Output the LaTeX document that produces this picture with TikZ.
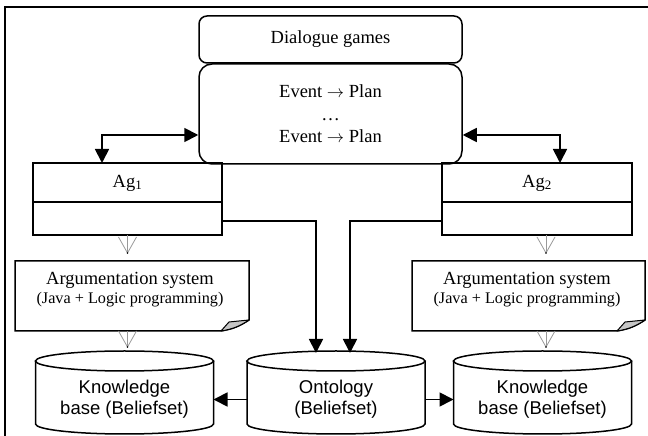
\documentclass[tikz,border=0pt]{standalone}
\usepackage{fontspec}
\setmainfont{Liberation Serif}
\setsansfont{Liberation Sans}
\usetikzlibrary{arrows.meta,calc}
\begin{document}
\begin{tikzpicture}[x=1pt,y=1pt,
  box/.style={draw, line width=1.5pt, inner sep=0pt, align=center, font=\fontsize{18.5}{22.5}\selectfont},
  shapebox/.style={inner sep=0pt, outer sep=0pt},
  txt/.style={inner sep=0pt, align=center, font=\fontsize{18.5}{19}\selectfont},
  sanstxt/.style={inner sep=0pt, align=center, font=\sffamily\fontsize{18.5}{21}\selectfont},
  link/.style={line width=1.8pt, -{Triangle[length=14pt,width=14pt]}},
  dlink/.style={line width=1.8pt, {Triangle[length=14pt,width=14pt]}-{Triangle[length=14pt,width=14pt]}},
  vline/.style={draw=gray!80, line width=0.8pt, line join=miter},
  outline/.style={line width=1.5pt, line join=miter},
]
\useasboundingbox (0,0) rectangle (648,436);
% outer frame (only left and top edges visible)
\draw[line width=2pt] (5,-5) -- (5,429) -- (660,429);

% top boxes
\node[box, rounded corners=8pt, minimum width=263pt, minimum height=47pt] (dg) at (330.5,396.5) {Dialogue games};
\node[box, rounded corners=13pt, minimum width=263pt, minimum height=100pt] (ev) at (330.5,322) {Event $\rightarrow$ Plan\\…\\Event $\rightarrow$ Plan};

% agent boxes
\node[draw, line width=1.5pt, shapebox, minimum width=189pt, minimum height=72pt] (ag1) at (127.5,237) {};
\node[draw, line width=1.5pt, shapebox, minimum width=190pt, minimum height=72pt] (ag2) at (537,237) {};
\draw[line width=1.5pt] ($(ag1.south west)+(0,33)$) -- ($(ag1.south east)+(0,33)$);
\draw[line width=1.5pt] ($(ag2.south west)+(0,33)$) -- ($(ag2.south east)+(0,33)$);
\node[txt] (ag1t) at (127.5,253) {Ag\textsubscript{1}};
\node[txt] (ag2t) at (537,253) {Ag\textsubscript{2}};

% argumentation system notes
\node[shapebox, minimum width=234pt, minimum height=70pt] (arg1) at (132,140) {};
\node[shapebox, minimum width=233pt, minimum height=70pt] (arg2) at (528.5,140) {};
\foreach \n in {arg1,arg2}{
  \draw[outline] (\n.north west) -- (\n.north east) -- ($(\n.south east)+(0,11)$)
     to[bend left=12] ($(\n.south east)+(-28,0)$) -- (\n.south west) -- cycle;
  \draw[line width=1pt, fill=gray!45, line join=round] ($(\n.south east)+(0,11)$) -- ($(\n.south east)+(-20,9)$) -- ($(\n.south east)+(-28,0)$) to[bend right=12] cycle;
}
\node[txt] (arg1t) at (130,146) {Argumentation system\\{\fontsize{16.2}{19}\selectfont (Java + Logic programming)}};
\node[txt] (arg2t) at (527,146) {Argumentation system\\{\fontsize{16.2}{19}\selectfont (Java + Logic programming)}};

% cylinders
\node[shapebox, minimum width=178pt, minimum height=83pt] (kb1) at (124.5,43.5) {};
\node[shapebox, minimum width=178pt, minimum height=83pt] (onto) at (336,43.5) {};
\node[shapebox, minimum width=178pt, minimum height=83pt] (kb2) at (542.5,43.5) {};
\foreach \n in {kb1,onto,kb2}{
  \draw[outline] ($(\n.north west)+(0,-10)$) -- ($(\n.south west)+(0,10)$)
     arc[start angle=180, end angle=360, x radius=89, y radius=10]
     -- ($(\n.north east)+(0,-10)$);
  \draw[outline] ($(\n.north)+(0,-10)$) ellipse[x radius=89, y radius=10];
}
\node[sanstxt] (kb1t) at (124.5,37) {Knowledge\\base (Beliefset)};
\node[sanstxt] (ontot) at (336,37) {Ontology\\(Beliefset)};
\node[sanstxt] (kb2t) at (542.5,37) {Knowledge\\base (Beliefset)};

% connectors
\draw[dlink] ($(ag1.north)+(-25.5,0)$) |- ($(ev.west)+(0,-21)$);
\draw[dlink] ($(ag2.north)+(23,0)$) |- ($(ev.east)+(0,-21)$);
\draw[link] ($(ag1.south east)+(0,14)$) -| ($(onto.north)+(-20,-2)$);
\draw[link] ($(ag2.south west)+(0,14)$) -| ($(onto.north)+(14,-2)$);
\draw[link] ($(onto.west)+(0,-7)$) -- ($(kb1.east)+(0,-7)$);
\draw[link] ($(onto.east)+(0,-7)$) -- ($(kb2.west)+(0,-7)$);

% open "V" arrows
\coordinate (v1) at (ag1.south);
\coordinate (v2) at ($(ag2.south)+(9,0)$);
\coordinate (t1) at ($(v1 |- arg1.north)+(0,8)$);
\coordinate (t2) at ($(v1 |- kb1.north)+(0,4)$);
\coordinate (t3) at ($(v2 |- arg2.north)+(0,8)$);
\coordinate (t4) at ($(v2 |- kb2.north)+(0,4)$);
\draw[vline] (v1) -- (t1);
\draw[vline] (v1 |- arg1.south) -- (t2);
\draw[vline] (v2) -- (t3);
\draw[vline] (v2 |- arg2.south) -- (t4);
\foreach \t in {t1,t2,t3,t4}{
  \draw[vline] ($(\t)+(-9,16)$) -- (\t) -- ($(\t)+(9,16)$);
  \fill[black] (\t) circle[radius=0.9];
}
\end{tikzpicture}
\end{document}
